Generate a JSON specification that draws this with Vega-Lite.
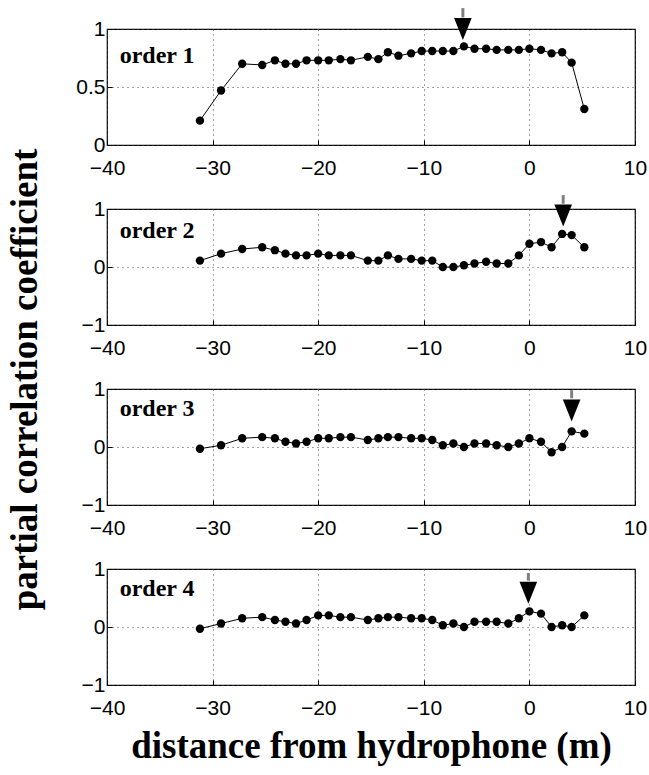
{
  "$schema": "https://vega.github.io/schema/vega-lite/v6.json",
  "background": "white",
  "padding": {"left": 5, "top": 6, "right": 0, "bottom": 5},
  "bounds": "flush",
  "spacing": 64,
  "datasets": {
    "curves": [
      {"order":1,"x":-31.2,"r":0.21},{"order":1,"x":-29.2,"r":0.47},{"order":1,"x":-27.2,"r":0.70},{"order":1,"x":-25.3,"r":0.69},{"order":1,"x":-24.1,"r":0.73},{"order":1,"x":-23.1,"r":0.70},{"order":1,"x":-22.1,"r":0.70},{"order":1,"x":-21.1,"r":0.73},{"order":1,"x":-20.0,"r":0.73},{"order":1,"x":-19.0,"r":0.73},{"order":1,"x":-17.9,"r":0.74},{"order":1,"x":-16.9,"r":0.73},{"order":1,"x":-15.3,"r":0.76},{"order":1,"x":-14.3,"r":0.74},{"order":1,"x":-13.4,"r":0.80},{"order":1,"x":-12.4,"r":0.77},{"order":1,"x":-11.2,"r":0.79},{"order":1,"x":-10.2,"r":0.81},{"order":1,"x":-9.2,"r":0.81},{"order":1,"x":-8.2,"r":0.81},{"order":1,"x":-7.2,"r":0.81},{"order":1,"x":-6.2,"r":0.85},{"order":1,"x":-5.2,"r":0.83},{"order":1,"x":-4.1,"r":0.83},{"order":1,"x":-3.1,"r":0.82},{"order":1,"x":-2.0,"r":0.82},{"order":1,"x":-1.0,"r":0.82},{"order":1,"x":0.0,"r":0.83},{"order":1,"x":1.1,"r":0.82},{"order":1,"x":2.1,"r":0.79},{"order":1,"x":3.1,"r":0.80},{"order":1,"x":4.0,"r":0.71},{"order":1,"x":5.2,"r":0.31},
      {"order":2,"x":-31.2,"r":0.11},{"order":2,"x":-29.2,"r":0.23},{"order":2,"x":-27.2,"r":0.31},{"order":2,"x":-25.3,"r":0.34},{"order":2,"x":-24.1,"r":0.29},{"order":2,"x":-23.1,"r":0.23},{"order":2,"x":-22.1,"r":0.20},{"order":2,"x":-21.1,"r":0.20},{"order":2,"x":-20.0,"r":0.23},{"order":2,"x":-19.0,"r":0.20},{"order":2,"x":-17.9,"r":0.20},{"order":2,"x":-16.9,"r":0.20},{"order":2,"x":-15.3,"r":0.11},{"order":2,"x":-14.3,"r":0.11},{"order":2,"x":-13.4,"r":0.20},{"order":2,"x":-12.4,"r":0.14},{"order":2,"x":-11.2,"r":0.14},{"order":2,"x":-10.2,"r":0.11},{"order":2,"x":-9.2,"r":0.11},{"order":2,"x":-8.2,"r":0.00},{"order":2,"x":-7.2,"r":0.00},{"order":2,"x":-6.2,"r":0.03},{"order":2,"x":-5.2,"r":0.06},{"order":2,"x":-4.1,"r":0.09},{"order":2,"x":-3.1,"r":0.06},{"order":2,"x":-2.0,"r":0.06},{"order":2,"x":-1.0,"r":0.20},{"order":2,"x":0.0,"r":0.40},{"order":2,"x":1.1,"r":0.43},{"order":2,"x":2.1,"r":0.34},{"order":2,"x":3.1,"r":0.57},{"order":2,"x":4.0,"r":0.55},{"order":2,"x":5.2,"r":0.34},
      {"order":3,"x":-31.2,"r":-0.03},{"order":3,"x":-29.2,"r":0.03},{"order":3,"x":-27.2,"r":0.15},{"order":3,"x":-25.3,"r":0.17},{"order":3,"x":-24.1,"r":0.15},{"order":3,"x":-23.1,"r":0.09},{"order":3,"x":-22.1,"r":0.06},{"order":3,"x":-21.1,"r":0.09},{"order":3,"x":-20.0,"r":0.15},{"order":3,"x":-19.0,"r":0.15},{"order":3,"x":-17.9,"r":0.17},{"order":3,"x":-16.9,"r":0.17},{"order":3,"x":-15.3,"r":0.12},{"order":3,"x":-14.3,"r":0.15},{"order":3,"x":-13.4,"r":0.17},{"order":3,"x":-12.4,"r":0.17},{"order":3,"x":-11.2,"r":0.15},{"order":3,"x":-10.2,"r":0.15},{"order":3,"x":-9.2,"r":0.12},{"order":3,"x":-8.2,"r":0.03},{"order":3,"x":-7.2,"r":0.06},{"order":3,"x":-6.2,"r":0.00},{"order":3,"x":-5.2,"r":0.06},{"order":3,"x":-4.1,"r":0.06},{"order":3,"x":-3.1,"r":0.03},{"order":3,"x":-2.0,"r":0.00},{"order":3,"x":-1.0,"r":0.06},{"order":3,"x":0.0,"r":0.15},{"order":3,"x":1.1,"r":0.09},{"order":3,"x":2.1,"r":-0.09},{"order":3,"x":3.1,"r":0.00},{"order":3,"x":4.0,"r":0.27},{"order":3,"x":5.2,"r":0.23},
      {"order":4,"x":-31.2,"r":-0.03},{"order":4,"x":-29.2,"r":0.06},{"order":4,"x":-27.2,"r":0.15},{"order":4,"x":-25.3,"r":0.17},{"order":4,"x":-24.1,"r":0.12},{"order":4,"x":-23.1,"r":0.09},{"order":4,"x":-22.1,"r":0.06},{"order":4,"x":-21.1,"r":0.12},{"order":4,"x":-20.0,"r":0.20},{"order":4,"x":-19.0,"r":0.20},{"order":4,"x":-17.9,"r":0.17},{"order":4,"x":-16.9,"r":0.17},{"order":4,"x":-15.3,"r":0.12},{"order":4,"x":-14.3,"r":0.15},{"order":4,"x":-13.4,"r":0.17},{"order":4,"x":-12.4,"r":0.17},{"order":4,"x":-11.2,"r":0.15},{"order":4,"x":-10.2,"r":0.15},{"order":4,"x":-9.2,"r":0.12},{"order":4,"x":-8.2,"r":0.03},{"order":4,"x":-7.2,"r":0.06},{"order":4,"x":-6.2,"r":0.00},{"order":4,"x":-5.2,"r":0.09},{"order":4,"x":-4.1,"r":0.09},{"order":4,"x":-3.1,"r":0.09},{"order":4,"x":-2.0,"r":0.06},{"order":4,"x":-1.0,"r":0.15},{"order":4,"x":0.0,"r":0.27},{"order":4,"x":1.1,"r":0.23},{"order":4,"x":2.1,"r":0.00},{"order":4,"x":3.1,"r":0.03},{"order":4,"x":4.0,"r":0.00},{"order":4,"x":5.2,"r":0.20}
    ],
    "arrows": [
      {"order":1,"label":"order 1","x":-6.3,"head":1.0,"stemLow":1.1,"stemHigh":1.18},
      {"order":2,"label":"order 2","x":3.2,"head":0.89,"stemLow":1.09,"stemHigh":1.24},
      {"order":3,"label":"order 3","x":4.0,"head":0.63,"stemLow":0.84,"stemHigh":0.98},
      {"order":4,"label":"order 4","x":-0.1,"head":0.59,"stemLow":0.8,"stemHigh":0.93}
    ]
  },
  "vconcat": [
    {
      "width": 528, "height": 116,
      "layer": [
        {"data":{"name":"curves"},"transform":[{"filter":"datum.order==1"}],"mark":{"type":"line","color":"black","strokeWidth":1},
         "encoding":{"x":{"field":"x","type":"quantitative","scale":{"domain":[-40,10]},"axis":{"values":[-40,-30,-20,-10,0,10],"title":null}},
                     "y":{"field":"r","type":"quantitative","scale":{"domain":[0,1]},"axis":{"values":[0,0.5,1],"title":null}}}},
        {"data":{"name":"curves"},"transform":[{"filter":"datum.order==1"}],"mark":{"type":"point","filled":true,"color":"black","opacity":1,"size":70},
         "encoding":{"x":{"field":"x","type":"quantitative"},"y":{"field":"r","type":"quantitative"}}},
        {"data":{"name":"arrows"},"transform":[{"filter":"datum.order==1"}],"mark":{"type":"rule","color":"#808080","strokeWidth":3},
         "encoding":{"x":{"field":"x","type":"quantitative"},"y":{"field":"stemLow","type":"quantitative"},"y2":{"field":"stemHigh"}}},
        {"data":{"name":"arrows"},"transform":[{"filter":"datum.order==1"}],"mark":{"type":"point","shape":"M-0.8,-1L0.8,-1L0,1Z","filled":true,"color":"black","opacity":1,"size":484},
         "encoding":{"x":{"field":"x","type":"quantitative"},"y":{"field":"head","type":"quantitative"}}},
        {"data":{"name":"arrows"},"transform":[{"filter":"datum.order==1"}],"mark":{"type":"text","font":"Liberation Serif","fontWeight":"bold","fontSize":24,"align":"left","baseline":"middle","color":"black"},
         "encoding":{"x":{"datum":-38.8},"y":{"datum":0.77},"text":{"field":"label"}}}
      ]
    },
    {
      "width": 528, "height": 116,
      "layer": [
        {"data":{"name":"curves"},"transform":[{"filter":"datum.order==2"}],"mark":{"type":"line","color":"black","strokeWidth":1},
         "encoding":{"x":{"field":"x","type":"quantitative","scale":{"domain":[-40,10]},"axis":{"values":[-40,-30,-20,-10,0,10],"title":null}},
                     "y":{"field":"r","type":"quantitative","scale":{"domain":[-1,1]},"axis":{"values":[-1,0,1],"title":"partial correlation coefficient","titleX":-82,"titleY":170,"titleBaseline":"middle","titleAngle":270}}}},
        {"data":{"name":"curves"},"transform":[{"filter":"datum.order==2"}],"mark":{"type":"point","filled":true,"color":"black","opacity":1,"size":70},
         "encoding":{"x":{"field":"x","type":"quantitative"},"y":{"field":"r","type":"quantitative"}}},
        {"data":{"name":"arrows"},"transform":[{"filter":"datum.order==2"}],"mark":{"type":"rule","color":"#808080","strokeWidth":3},
         "encoding":{"x":{"field":"x","type":"quantitative"},"y":{"field":"stemLow","type":"quantitative"},"y2":{"field":"stemHigh"}}},
        {"data":{"name":"arrows"},"transform":[{"filter":"datum.order==2"}],"mark":{"type":"point","shape":"M-0.8,-1L0.8,-1L0,1Z","filled":true,"color":"black","opacity":1,"size":484},
         "encoding":{"x":{"field":"x","type":"quantitative"},"y":{"field":"head","type":"quantitative"}}},
        {"data":{"name":"arrows"},"transform":[{"filter":"datum.order==2"}],"mark":{"type":"text","font":"Liberation Serif","fontWeight":"bold","fontSize":24,"align":"left","baseline":"middle","color":"black"},
         "encoding":{"x":{"datum":-38.8},"y":{"datum":0.62},"text":{"field":"label"}}}
      ]
    },
    {
      "width": 528, "height": 116,
      "layer": [
        {"data":{"name":"curves"},"transform":[{"filter":"datum.order==3"}],"mark":{"type":"line","color":"black","strokeWidth":1},
         "encoding":{"x":{"field":"x","type":"quantitative","scale":{"domain":[-40,10]},"axis":{"values":[-40,-30,-20,-10,0,10],"title":null}},
                     "y":{"field":"r","type":"quantitative","scale":{"domain":[-1,1]},"axis":{"values":[-1,0,1],"title":null}}}},
        {"data":{"name":"curves"},"transform":[{"filter":"datum.order==3"}],"mark":{"type":"point","filled":true,"color":"black","opacity":1,"size":70},
         "encoding":{"x":{"field":"x","type":"quantitative"},"y":{"field":"r","type":"quantitative"}}},
        {"data":{"name":"arrows"},"transform":[{"filter":"datum.order==3"}],"mark":{"type":"rule","color":"#808080","strokeWidth":3},
         "encoding":{"x":{"field":"x","type":"quantitative"},"y":{"field":"stemLow","type":"quantitative"},"y2":{"field":"stemHigh"}}},
        {"data":{"name":"arrows"},"transform":[{"filter":"datum.order==3"}],"mark":{"type":"point","shape":"M-0.8,-1L0.8,-1L0,1Z","filled":true,"color":"black","opacity":1,"size":484},
         "encoding":{"x":{"field":"x","type":"quantitative"},"y":{"field":"head","type":"quantitative"}}},
        {"data":{"name":"arrows"},"transform":[{"filter":"datum.order==3"}],"mark":{"type":"text","font":"Liberation Serif","fontWeight":"bold","fontSize":24,"align":"left","baseline":"middle","color":"black"},
         "encoding":{"x":{"datum":-38.8},"y":{"datum":0.65},"text":{"field":"label"}}}
      ]
    },
    {
      "width": 528, "height": 116,
      "layer": [
        {"data":{"name":"curves"},"transform":[{"filter":"datum.order==4"}],"mark":{"type":"line","color":"black","strokeWidth":1},
         "encoding":{"x":{"field":"x","type":"quantitative","scale":{"domain":[-40,10]},"axis":{"values":[-40,-30,-20,-10,0,10],"title":"distance from hydrophone (m)","titlePadding":10}},
                     "y":{"field":"r","type":"quantitative","scale":{"domain":[-1,1]},"axis":{"values":[-1,0,1],"title":null}}}},
        {"data":{"name":"curves"},"transform":[{"filter":"datum.order==4"}],"mark":{"type":"point","filled":true,"color":"black","opacity":1,"size":70},
         "encoding":{"x":{"field":"x","type":"quantitative"},"y":{"field":"r","type":"quantitative"}}},
        {"data":{"name":"arrows"},"transform":[{"filter":"datum.order==4"}],"mark":{"type":"rule","color":"#808080","strokeWidth":3},
         "encoding":{"x":{"field":"x","type":"quantitative"},"y":{"field":"stemLow","type":"quantitative"},"y2":{"field":"stemHigh"}}},
        {"data":{"name":"arrows"},"transform":[{"filter":"datum.order==4"}],"mark":{"type":"point","shape":"M-0.8,-1L0.8,-1L0,1Z","filled":true,"color":"black","opacity":1,"size":484},
         "encoding":{"x":{"field":"x","type":"quantitative"},"y":{"field":"head","type":"quantitative"}}},
        {"data":{"name":"arrows"},"transform":[{"filter":"datum.order==4"}],"mark":{"type":"text","font":"Liberation Serif","fontWeight":"bold","fontSize":24,"align":"left","baseline":"middle","color":"black"},
         "encoding":{"x":{"datum":-38.8},"y":{"datum":0.65},"text":{"field":"label"}}}
      ]
    }
  ],
  "config": {
    "view": {"stroke": "black", "strokeWidth": 1.2},
    "axis": {
      "labelFont": "Liberation Sans", "labelFontSize": 21, "labelColor": "black", "format": "~g",
      "labelFlush": false, "labelOverlap": false,
      "domain": false, "ticks": true, "tickColor": "black", "tickSize": -5, "tickWidth": 1,
      "grid": true, "gridColor": "#444444", "gridDash": [1, 4], "gridWidth": 1, "gridOpacity": 1,
      "titleFont": "Liberation Serif", "titleFontWeight": "bold", "titleFontSize": 37, "titleColor": "black"
    },
    "axisX": {"labelPadding": 17},
    "axisY": {"labelPadding": 7}
  }
}
